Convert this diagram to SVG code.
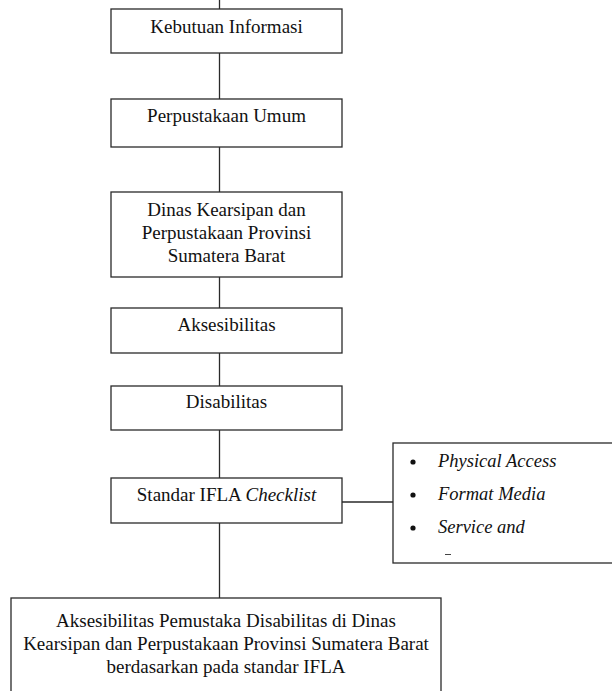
<svg xmlns="http://www.w3.org/2000/svg" width="612" height="691" viewBox="0 0 612 691">
<style>
.box{fill:#fff;stroke:#2a2a2a;stroke-width:1.3}
.ln{stroke:#2a2a2a;stroke-width:1.3;fill:none}
.t{font-family:"Liberation Serif","Times New Roman",serif;font-size:19px;fill:#111;text-anchor:middle}
.li{font-family:"Liberation Serif","Times New Roman",serif;font-size:18.5px;font-style:italic;fill:#111}
</style>
<rect width="612" height="691" fill="#fff"/>
<g id="connectors">
<line class="ln" x1="219.5" y1="0" x2="219.5" y2="9"/>
<line class="ln" x1="219.5" y1="53" x2="219.5" y2="99"/>
<line class="ln" x1="219.5" y1="147" x2="219.5" y2="192"/>
<line class="ln" x1="219.5" y1="277" x2="219.5" y2="308"/>
<line class="ln" x1="219.5" y1="353" x2="219.5" y2="386"/>
<line class="ln" x1="219.5" y1="430" x2="219.5" y2="478"/>
<line class="ln" x1="219.5" y1="523" x2="219.5" y2="598"/>
<line class="ln" x1="342" y1="502" x2="393" y2="502"/>
</g>
<g id="n1"><rect class="box" x="111" y="9" width="231" height="44"/><text class="t" x="226.5" y="33">Kebutuan Informasi</text></g>
<g id="n2"><rect class="box" x="111" y="99" width="231" height="48"/><text class="t" x="226.5" y="122">Perpustakaan Umum</text></g>
<g id="n3"><rect class="box" x="111" y="192" width="231" height="85"/>
<text class="t" x="226.5" y="216">Dinas Kearsipan dan</text>
<text class="t" x="226.5" y="239">Perpustakaan Provinsi</text>
<text class="t" x="226.5" y="262">Sumatera Barat</text></g>
<g id="n4"><rect class="box" x="111" y="308" width="231" height="45"/><text class="t" x="226.5" y="331">Aksesibilitas</text></g>
<g id="n5"><rect class="box" x="111" y="386" width="231" height="44"/><text class="t" x="226.5" y="408">Disabilitas</text></g>
<g id="n6"><rect class="box" x="111" y="478" width="231" height="45"/><text class="t" x="226.5" y="501">Standar IFLA <tspan font-style="italic">Checklist</tspan></text></g>
<g id="n7"><rect class="box" x="393" y="443" width="230" height="120"/>
<circle cx="413" cy="462" r="2.6" fill="#111"/>
<circle cx="413" cy="495" r="2.6" fill="#111"/>
<circle cx="413" cy="528" r="2.6" fill="#111"/>
<text class="li" x="438" y="467">Physical Access</text>
<text class="li" x="438" y="500">Format Media</text>
<text class="li" x="438" y="533">Service and</text>
<line x1="445" y1="554.5" x2="451" y2="554.5" stroke="#444" stroke-width="1"/>
</g>
<g id="n8"><rect class="box" x="11" y="598" width="430" height="110"/>
<text class="t" x="226" y="627">Aksesibilitas Pemustaka Disabilitas di Dinas</text>
<text class="t" x="226" y="650">Kearsipan dan Perpustakaan Provinsi Sumatera Barat</text>
<text class="t" x="226" y="673">berdasarkan pada standar IFLA</text></g>
</svg>
